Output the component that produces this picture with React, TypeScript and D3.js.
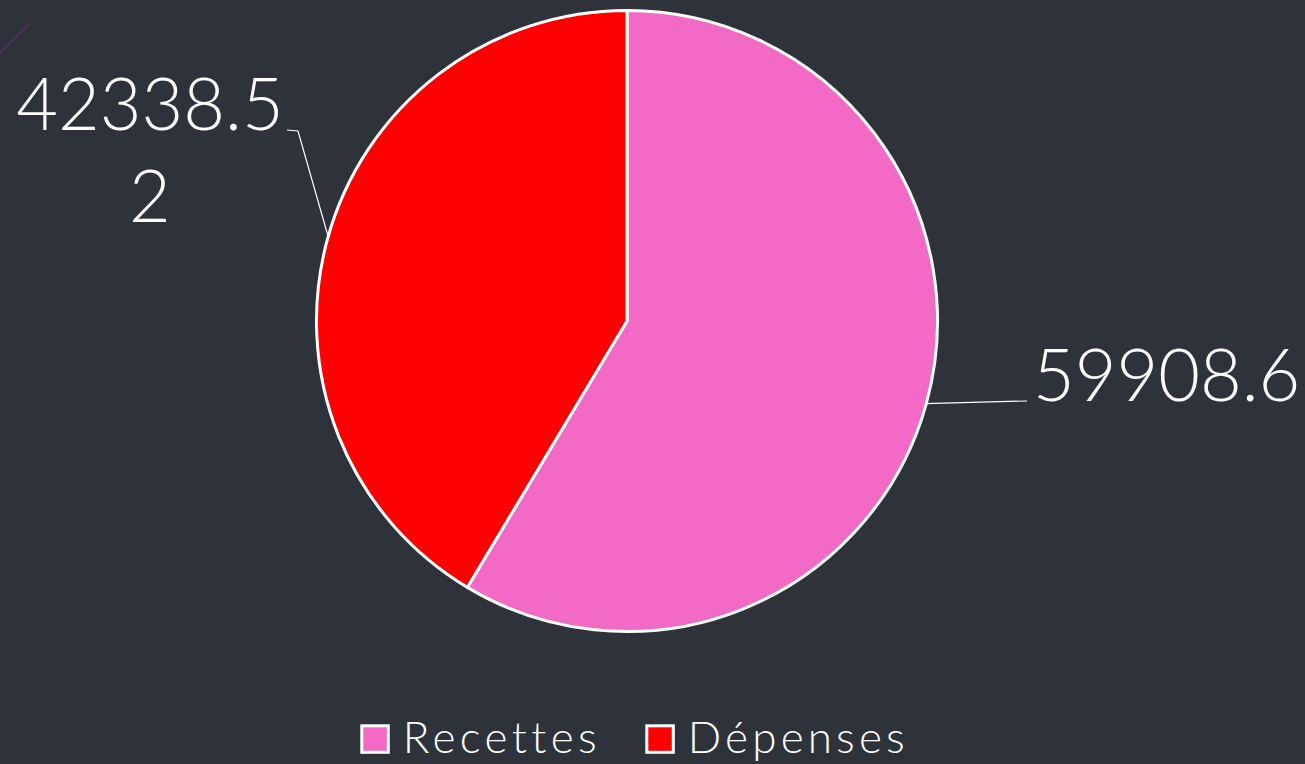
import React from "react";
import * as d3 from "d3";

const categories = ["Recettes", "Dépenses"];
const values = [59908.6, 42338.52];
const labelLines = [["59908.6"], ["42338.5", "2"]];
const colors = ["#f36ac6", "#ff0000"];

const W = 1305;
const H = 764;
const BG = "#2e333b";
const FONT = "Lato, 'Open Sans', sans-serif";

export default function App() {
  const cx = 627;
  const cy = 321;
  const r = 310.5;
  const pie = d3.pie<number>().sort(null).value((d) => d);
  const arcs = pie(values);
  const arcGen = d3.arc<d3.PieArcDatum<number>>().innerRadius(0).outerRadius(r);
  const edgeGen = d3.arc<d3.PieArcDatum<number>>().innerRadius(r - 1).outerRadius(r - 1);

  // label layout: elbow/end points of leader lines and text anchors
  const labelLayout = [
    { pts: [[1027, 401]], tx: 1033, ty: 401, anchor: "start" },
    { pts: [[298, 131], [287, 130]], tx: 150, ty: 130, anchor: "middle" },
  ];
  const legendX = [361.8, 646.8];
  const legendLen = [194, 217];

  return (
    <svg
      width={W}
      height={H}
      style={{ position: "absolute", left: 0, top: 0, background: BG }}
    >
      <rect x={0} y={0} width={W} height={H} fill={BG} />
      <line x1={0} y1={52.7} x2={29.3} y2={24.3} stroke="#5b2c6f" strokeWidth={1.5} />
      <g transform={`translate(${cx},${cy})`}>
        {arcs.map((a, i) => (
          <path key={i} d={arcGen(a) || ""} fill={colors[i]} stroke="#ffffff" strokeWidth={3} strokeLinejoin="round" />
        ))}
      </g>
      {arcs.map((a, i) => {
        const c = edgeGen.centroid(a);
        const L = labelLayout[i];
        const pts = [[cx + c[0], cy + c[1]], ...L.pts];
        const d = d3.line()(pts as [number, number][]) || "";
        return (
          <g key={i}>
            <path d={d} fill="none" stroke="#ffffff" strokeWidth={1.2} />
            <text
              x={L.tx}
              y={L.ty}
              fill="#ffffff"
              fontFamily={FONT}
              fontSize={72}
              fontWeight={300}
              textAnchor={L.anchor as any}
            >
              {labelLines[i].map((t, j) => (
                <tspan key={j} x={L.tx} dy={j === 0 ? 0 : 92}>
                  {t}
                </tspan>
              ))}
            </text>
          </g>
        );
      })}
      {categories.map((c, i) => {
        const x0 = legendX[i];
        return (
          <g key={c}>
            <rect x={x0} y={725.8} width={26.5} height={26.5} fill={colors[i]} stroke="#ffffff" strokeWidth={3} />
            <text
              x={x0 + 41}
              y={753}
              fill="#ffffff"
              fontFamily={FONT}
              fontSize={44}
              fontWeight={300}
              textLength={legendLen[i]}
              lengthAdjust="spacing"
              style={{ fontVariantLigatures: "none" }}
            >
              {c}
            </text>
          </g>
        );
      })}
    </svg>
  );
}
